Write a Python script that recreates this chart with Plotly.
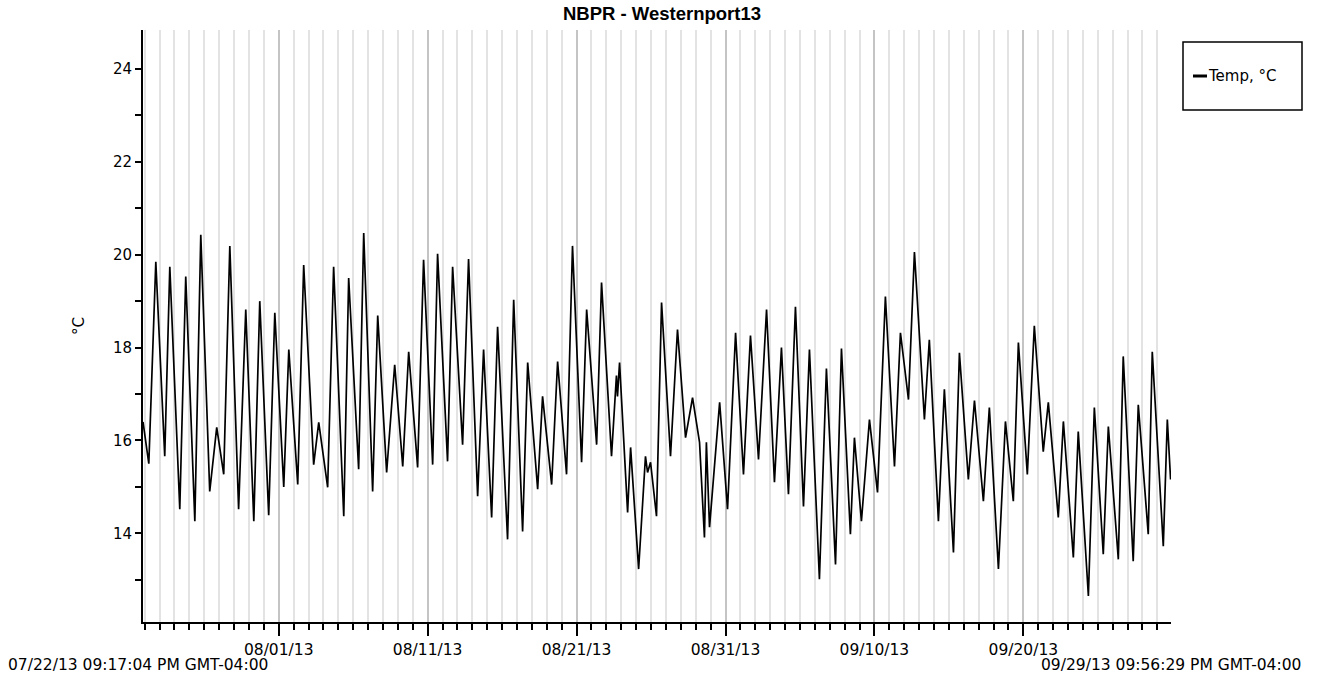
import pandas as pd
import plotly.graph_objects as go

# ---- data (days since logger start, temperature °C) ----
start_time = "2013-07-22 21:17:04"
end_time = "2013-09-29 21:56:29"

day_offset = [
    0.00, 0.39, 0.86, 1.46, 1.80, 2.47, 2.87, 3.48, 3.88, 4.48,
    4.95, 5.42, 5.83, 6.42, 6.90, 7.44, 7.84, 8.44, 8.85, 9.45,
    9.79, 10.39, 10.79, 11.46, 11.80, 12.40, 12.80, 13.48, 13.81, 14.48,
    14.82, 15.42, 15.76, 16.36, 16.90, 17.44, 17.84, 18.44, 18.84, 19.45,
    19.78, 20.45, 20.79, 21.46, 21.86, 22.47, 22.87, 23.41, 23.81, 24.48,
    24.89, 25.49, 25.83, 26.50, 26.83, 27.44, 27.84, 28.44, 28.84, 29.45,
    29.79, 30.46, 30.79, 31.46, 31.79, 31.86, 32.00, 32.54, 32.74, 33.28,
    33.74, 33.88, 34.08, 34.48, 34.82, 35.42, 35.89, 36.43, 36.90, 37.37,
    37.70, 37.83, 38.04, 38.72, 39.25, 39.79, 40.32, 40.79, 41.33, 41.87,
    42.40, 42.87, 43.34, 43.81, 44.35, 44.75, 45.42, 45.89, 46.50, 46.90,
    47.50, 47.77, 48.24, 48.78, 49.32, 49.85, 50.46, 50.86, 51.40, 51.80,
    52.47, 52.80, 53.41, 53.81, 54.42, 54.82, 55.42, 55.83, 56.43, 56.83,
    57.44, 57.91, 58.44, 58.78, 59.38, 59.85, 60.45, 60.79, 61.46, 61.80,
    62.47, 62.80, 63.48, 63.88, 64.48, 64.82, 65.49, 65.82, 66.49, 66.83,
    67.50, 67.77, 68.51, 68.78, 69.00,
]

temperature = [
    16.40, 15.50, 19.85, 15.66, 19.74, 14.52, 19.53, 14.26, 20.43, 14.90,
    16.28, 15.27, 20.19, 14.52, 18.82, 14.26, 19.00, 14.39, 18.75, 15.00,
    17.96, 15.05, 19.78, 15.48, 16.39, 14.99, 19.74, 14.37, 19.50, 15.38,
    20.47, 14.90, 18.69, 15.31, 17.63, 15.44, 17.91, 15.42, 19.89, 15.48,
    20.02, 15.55, 19.74, 15.91, 19.91, 14.80, 17.96, 14.34, 18.45, 13.87,
    19.03, 14.04, 17.68, 14.95, 16.95, 15.05, 17.70, 15.27, 20.19, 15.53,
    18.82, 15.91, 19.40, 15.66, 17.40, 16.95, 17.68, 14.45, 15.85, 13.23,
    15.66, 15.31, 15.53, 14.37, 18.97, 15.66, 18.39, 16.06, 16.92, 15.96,
    13.91, 15.96, 14.13, 16.82, 14.52, 18.32, 15.27, 18.26, 15.59, 18.82,
    15.10, 18.00, 14.84, 18.88, 14.58, 17.96, 13.01, 17.55, 13.33, 17.98,
    13.98, 16.06, 14.26, 16.45, 14.88, 19.10, 15.44, 18.32, 16.88, 20.06,
    16.45, 18.17, 14.26, 17.10, 13.59, 17.89, 15.16, 16.86, 14.69, 16.71,
    13.23, 16.41, 14.69, 18.11, 15.27, 18.47, 15.76, 16.82, 14.34, 16.41,
    13.48, 16.19, 12.65, 16.71, 13.55, 16.30, 13.44, 17.81, 13.40, 16.77,
    13.98, 17.91, 13.72, 16.45, 15.16,
]

series_name = "Temp, °C"
title_text = "NBPR - Westernport13"
y_label = "°C"
start_label = "07/22/13 09:17:04 PM GMT-04:00"
end_label = "09/29/13 09:56:29 PM GMT-04:00"
y_ticks = [14, 16, 18, 20, 22, 24]

times = pd.Timestamp(start_time) + pd.to_timedelta(day_offset, unit="D")

TICK_FONT = dict(family="DejaVu Sans", size=15.5, color="#000")

fig = go.Figure()
fig.add_trace(go.Scatter(
    x=times, y=temperature, mode="lines", name=series_name,
    line=dict(color="#000000", width=1.7), showlegend=False,
))

fig.update_layout(
    width=1319, height=682,
    margin=dict(l=143, r=148, t=30, b=60),
    paper_bgcolor="white", plot_bgcolor="white",
    title=dict(text="<b>" + title_text + "</b>", x=662 / 1319, xanchor="center",
               y=1 - 14 / 682, yanchor="middle",
               font=dict(family="Liberation Sans, Arial", size=18.5, color="#000")),
    xaxis=dict(
        type="date",
        range=[start_time, end_time],
        tick0="2013-08-01", dtick=10 * 86400000,
        tickformat="%m/%d/%y",
        ticks="outside", ticklen=12, tickwidth=1.5, tickcolor="#000",
        showline=True, linecolor="#000", linewidth=2,
        showgrid=True, gridcolor="#c4c4c4", gridwidth=1.5,
        tickfont=TICK_FONT,
        minor=dict(dtick=86400000, tick0="2013-08-01", ticks="outside", ticklen=6,
                   tickwidth=1.5, tickcolor="#000", showgrid=True,
                   gridcolor="#e3e3e3", gridwidth=1.5),
        zeroline=False, fixedrange=True,
    ),
    yaxis=dict(
        range=[12.09, 24.84],
        tickvals=y_ticks,
        ticks="outside", ticklen=6, tickwidth=1.5, tickcolor="#000",
        showline=True, linecolor="#000", linewidth=2,
        showgrid=False, zeroline=False,
        tickfont=dict(family="DejaVu Sans", size=15, color="#000"),
        minor=dict(dtick=1, tick0=0, ticks="outside", ticklen=6, tickwidth=1.5,
                   tickcolor="#000", showgrid=False),
    ),
    showlegend=False,
)

# axis title and time-range labels
fig.add_annotation(text=y_label, xref="paper", yref="paper",
                   x=(68 - 143) / 1028, y=0.5, showarrow=False, textangle=-90,
                   font=dict(family="DejaVu Sans", size=15, color="#000"))
fig.add_annotation(text=start_label, xref="paper", yref="paper",
                   x=-137 / 1028, xanchor="left", y=(622 - 665) / 592, yanchor="middle",
                   showarrow=False, font=TICK_FONT)
fig.add_annotation(text=end_label, xref="paper", yref="paper",
                   x=(1303 - 143) / 1028, xanchor="right", y=(622 - 665) / 592,
                   yanchor="middle", showarrow=False, font=TICK_FONT)

# legend box drawn to match the reference placement
fig.add_shape(type="rect", xref="paper", yref="paper",
              x0=(1183 - 143) / 1028, x1=(1302 - 143) / 1028,
              y0=(622 - 110) / 592, y1=(622 - 42) / 592,
              line=dict(color="#000", width=1.5), fillcolor="white")
fig.add_shape(type="line", xref="paper", yref="paper",
              x0=(1193 - 143) / 1028, x1=(1207 - 143) / 1028,
              y0=(622 - 76) / 592, y1=(622 - 76) / 592,
              line=dict(color="#000", width=3))
fig.add_annotation(text=series_name, xref="paper", yref="paper",
                   x=(1206 - 143) / 1028, xanchor="left", y=(622 - 76) / 592,
                   yanchor="middle", showarrow=False,
                   font=dict(family="DejaVu Sans", size=15, color="#000"))

fig.write_html("out.html")
